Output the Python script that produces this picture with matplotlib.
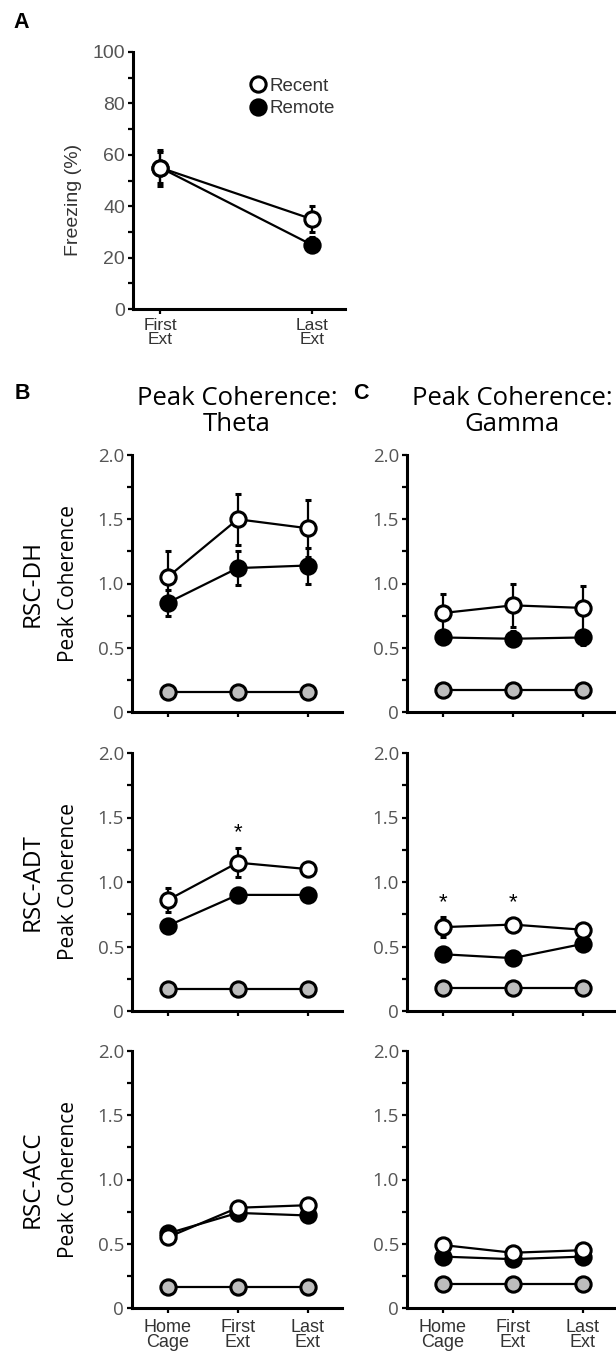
import numpy as np
import matplotlib.pyplot as plt
from matplotlib.lines import Line2D

W, H = 616, 1353

# panel A - freezing during extinction
a_sessions = ["First\nExt", "Last\nExt"]
a_recent = [55, 35]
a_recent_err = [7, 5]
a_remote = [55, 25]
a_remote_err = [6, 3]

# panels B/C - peak coherence, rows = RSC-DH, RSC-ADT, RSC-ACC
sessions = ["Home\nCage", "First\nExt", "Last\nExt"]
regions = ["RSC-DH", "RSC-ADT", "RSC-ACC"]

theta_recent = [[1.05, 1.50, 1.43], [0.86, 1.15, 1.10], [0.55, 0.78, 0.80]]
theta_recent_err = [[0.20, 0.20, 0.22], [0.09, 0.11, 0.03], [0.02, 0.02, 0.02]]
theta_remote = [[0.85, 1.12, 1.14], [0.66, 0.90, 0.90], [0.58, 0.74, 0.72]]
theta_remote_err = [[0.10, 0.13, 0.14], [0.03, 0.03, 0.03], [0.02, 0.02, 0.02]]
theta_shuffled = [[0.155, 0.155, 0.155], [0.17, 0.17, 0.17], [0.16, 0.16, 0.16]]

gamma_recent = [[0.77, 0.83, 0.81], [0.65, 0.67, 0.63], [0.49, 0.43, 0.45]]
gamma_recent_err = [[0.15, 0.17, 0.17], [0.08, 0.03, 0.03], [0.02, 0.02, 0.02]]
gamma_remote = [[0.58, 0.57, 0.58], [0.44, 0.41, 0.52], [0.40, 0.38, 0.40]]
gamma_remote_err = [[0.05, 0.06, 0.06], [0.03, 0.03, 0.03], [0.02, 0.02, 0.02]]
gamma_shuffled = [[0.17, 0.17, 0.17], [0.18, 0.18, 0.18], [0.185, 0.185, 0.185]]

# significance stars: (row, session, height)
theta_stars = [(1, 1, 1.38)]
gamma_stars = [(1, 0, 0.84), (1, 1, 0.84)]

GRAY = "#bdbdbd"
TICKC = "#555555"
SANS = ["Open Sans", "DejaVu Sans"]
HELV = ["Liberation Sans", "DejaVu Sans"]

fig = plt.figure(figsize=(W / 100, H / 100), dpi=100)


def px_axes(l, t, r, b):
    return fig.add_axes([l / W, 1 - b / H, (r - l) / W, (b - t) / H])


def style(ax):
    for s in ["top", "right"]:
        ax.spines[s].set_visible(False)
    for s in ["left", "bottom"]:
        ax.spines[s].set_linewidth(2.2)
    ax.tick_params(which="both", direction="out", width=1.6, length=3.8)


def series(ax, x, y, err, face, z):
    ax.errorbar(x, y, yerr=err, fmt="-o", color="k", mfc=face, mec="k",
                ms=11, mew=2.2, lw=1.6, elinewidth=1.6, capsize=2.5,
                capthick=1.6, zorder=z, clip_on=False)


# ---- panel A
axA = px_axes(133, 52, 345, 309)
style(axA)
xa = np.arange(len(a_sessions))
series(axA, xa, a_remote, a_remote_err, "k", 3)
series(axA, xa, a_recent, a_recent_err, "white", 4)
axA.set_xlim(-0.18, 1.22)
axA.set_ylim(0, 100)
axA.set_yticks(range(0, 101, 20))
axA.set_yticks(range(10, 100, 20), minor=True)
axA.set_xticks(xa)
axA.set_xticklabels(a_sessions, fontsize=12.5, family=HELV, color="#333333",
                    linespacing=0.85)
for t in axA.get_yticklabels():
    t.set_fontsize(14)
    t.set_family(HELV)
    t.set_color(TICKC)
axA.tick_params(axis="y", pad=2)
axA.tick_params(axis="x", pad=3)
fig.text(74 / W, 1 - 200 / H, "Freezing (%)", rotation=90, ha="center",
         va="center", fontsize=14, family=HELV, color="#333333")
handles = [
    Line2D([], [], marker="o", ls="", mfc="white", mec="k", ms=11, mew=2.2,
           label="Recent"),
    Line2D([], [], marker="o", ls="", mfc="k", mec="k", ms=11, mew=2.2,
           label="Remote"),
]
axA.legend(handles=handles, loc="upper left", bbox_to_anchor=(0.52, 0.93),
           frameon=False, handlelength=0.8, handletextpad=0.2,
           labelspacing=0.3, borderaxespad=0,
           prop={"family": HELV, "size": 13.5})
for t in axA.get_legend().get_texts():
    t.set_color("#333333")

# ---- panels B and C
rows_px = [(455, 712), (753, 1011), (1051, 1308)]
cols = [
    (132, "Peak Coherence:\nTheta", theta_recent, theta_recent_err,
     theta_remote, theta_remote_err, theta_shuffled, theta_stars),
    (407, "Peak Coherence:\nGamma", gamma_recent, gamma_recent_err,
     gamma_remote, gamma_remote_err, gamma_shuffled, gamma_stars),
]
xs = np.arange(len(sessions))

for ci, (left, title, rec, rec_e, rem, rem_e, shuf, stars) in enumerate(cols):
    for ri, (top, bot) in enumerate(rows_px):
        ax = px_axes(left, top, left + 210, bot)
        style(ax)
        ax.plot(xs, shuf[ri], "-o", color="k", mfc=GRAY, mec="k", ms=11,
                mew=2.2, lw=1.6, zorder=2)
        series(ax, xs, rem[ri], rem_e[ri], "k", 3)
        series(ax, xs, rec[ri], rec_e[ri], "white", 4)
        for (sr, sx, sy) in stars:
            if sr == ri:
                ax.text(sx, sy, "*", ha="center", va="center", fontsize=16,
                        family=HELV)
        ax.set_xlim(-0.51, 2.49)
        ax.set_ylim(0, 2.0)
        ax.set_yticks([0, 0.5, 1.0, 1.5, 2.0])
        ax.set_yticklabels(["0", "0.5", "1.0", "1.5", "2.0"], fontsize=13.5,
                           family=SANS, color=TICKC)
        ax.set_yticks([0.25, 0.75, 1.25, 1.75], minor=True)
        ax.tick_params(axis="y", pad=2)
        ax.set_xticks(xs)
        if ri == 2:
            ax.set_xticklabels(sessions, fontsize=13, family=HELV,
                               color="#333333", linespacing=0.85)
            ax.tick_params(axis="x", pad=4)
        else:
            ax.set_xticklabels([])
        if ri == 0:
            ax.text(0.5, 1.07, title, transform=ax.transAxes, ha="center",
                    va="bottom", fontsize=18.5, family=SANS, linespacing=1.05)
        if ci == 0:
            yc = 1 - (top + bot) / 2 / H
            fig.text(33 / W, yc, regions[ri], rotation=90, ha="center",
                     va="center", fontsize=17.5, family=SANS)
            fig.text(69 / W, yc, "Peak Coherence", rotation=90, ha="center",
                     va="center", fontsize=15, family=SANS)

for lab, x, y in [("A", 21, 22), ("B", 22, 393), ("C", 361, 393)]:
    fig.text(x / W, 1 - y / H, lab, ha="center", va="center", fontsize=15.5,
             fontweight="bold", family=HELV)

fig.savefig("out.png", dpi=100)
